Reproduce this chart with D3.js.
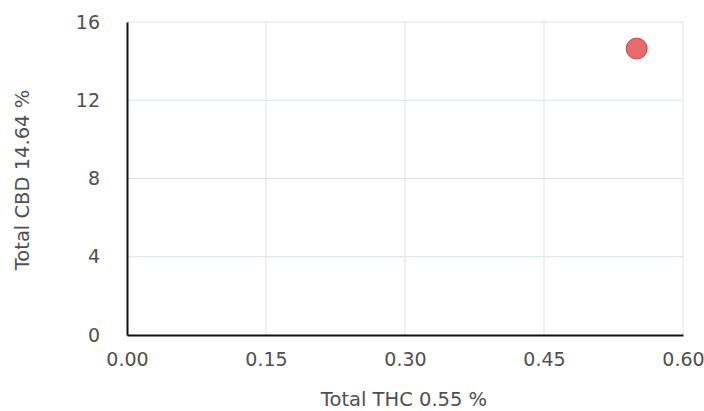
<!DOCTYPE html>
<html>
<head>
<meta charset="utf-8">
<script src="https://cdn.jsdelivr.net/npm/d3@7"></script>
<style>
  body { margin: 0; background: #fff; }
  text { font-family: "DejaVu Sans", sans-serif; }
</style>
</head>
<body>
<svg></svg>
<script>
// data
var thc = [0.55];
var cbd = [14.64];
var xTicks = [0.00, 0.15, 0.30, 0.45, 0.60];
var yTicks = [0, 4, 8, 12, 16];

var screen = {width: 704, height: 411};
var margins = {top: 22, right: 21, bottom: 76, left: 127};
var width = screen.width - margins.left - margins.right;
var height = screen.height - margins.top - margins.bottom;
var txt = "#505050";

var svg = d3.select("svg")
    .attr("width", screen.width)
    .attr("height", screen.height);

var g = svg.append("g")
    .attr("transform", "translate(" + margins.left + "," + margins.top + ")");

var xScale = d3.scaleLinear().domain([0, 0.6]).range([0, width]);
var yScale = d3.scaleLinear().domain([0, 16]).range([height, 0]);

// grid
g.append("g").selectAll("line")
    .data(yTicks.slice(1))
    .enter().append("line")
    .attr("x1", 0).attr("x2", width)
    .attr("y1", function(d){ return yScale(d); })
    .attr("y2", function(d){ return yScale(d); })
    .attr("stroke", "#d9e2e8").attr("stroke-width", 1);

g.append("g").selectAll("line")
    .data(xTicks.slice(1))
    .enter().append("line")
    .attr("y1", 0).attr("y2", height)
    .attr("x1", function(d){ return xScale(d); })
    .attr("x2", function(d){ return xScale(d); })
    .attr("stroke", "#dde3e8").attr("stroke-width", 1);

// axes
var xAxis = d3.axisBottom(xScale).tickValues(xTicks).tickSize(0).tickPadding(18)
    .tickFormat(d3.format(".2f"));
var yAxis = d3.axisLeft(yScale).tickValues(yTicks).tickSize(0).tickPadding(27)
    .tickFormat(d3.format("d"));

var gx = g.append("g").attr("transform", "translate(0," + height + ")").call(xAxis);
var gy = g.append("g").call(yAxis);
[gx, gy].forEach(function(a){
    a.attr("font-family", null).attr("font-size", null);
    a.select(".domain").attr("stroke", "#111").attr("stroke-width", 2);
    a.selectAll("text").attr("fill", txt)
        .style("font-size", "19px").style("font-weight", 400);
});

// point
g.selectAll("circle")
    .data(thc)
    .enter().append("circle")
    .attr("cx", function(d){ return xScale(d); })
    .attr("cy", function(d, i){ return yScale(cbd[i]); })
    .attr("r", 10.5)
    .attr("fill", "#e96a6c")
    .attr("stroke", "#b84a50")
    .attr("stroke-width", 1);

// labels
svg.append("text")
    .attr("x", 404)
    .attr("y", 406)
    .attr("text-anchor", "middle")
    .attr("fill", txt)
    .style("font-size", "19.5px").style("font-weight", 400)
    .text("Total THC " + thc[0] + " %");

svg.append("text")
    .attr("transform", "translate(29,180) rotate(-90)")
    .attr("text-anchor", "middle")
    .attr("fill", txt)
    .style("font-size", "19.5px").style("font-weight", 400)
    .text("Total CBD " + cbd[0] + " %");
</script>
</body>
</html>
